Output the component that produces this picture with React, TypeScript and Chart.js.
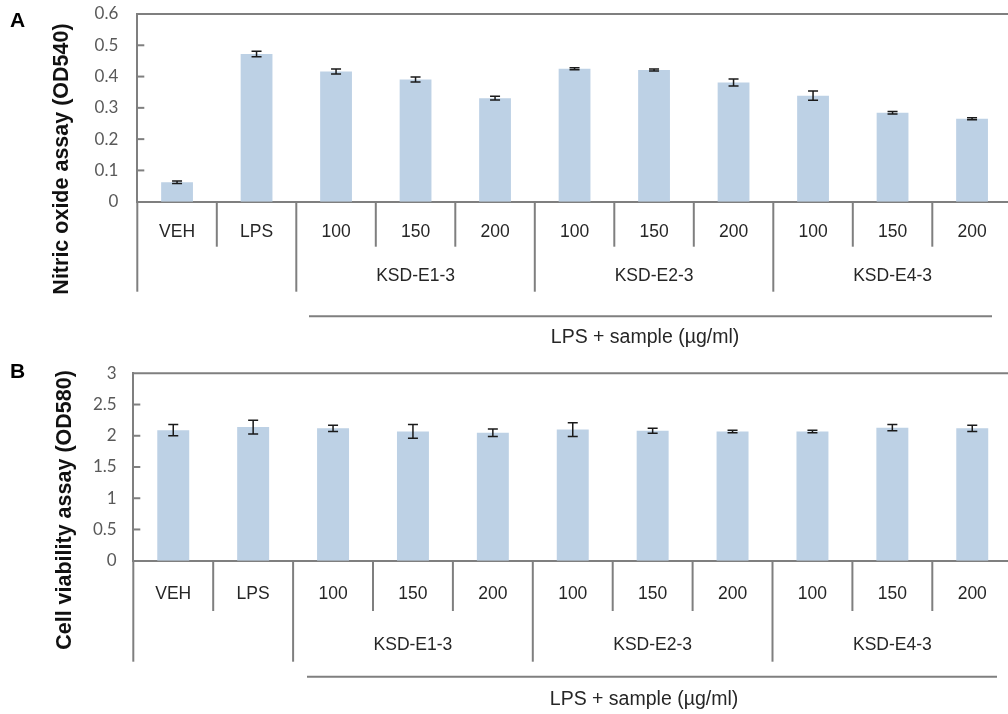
import React, { useEffect, useRef } from "react";
import { Chart, registerables } from "chart.js";

Chart.register(...registerables);

// ---- Data ----
const categories = ["VEH", "LPS", "100", "150", "200", "100", "150", "200", "100", "150", "200"];
const groupLabels = ["KSD-E1-3", "KSD-E2-3", "KSD-E4-3"];
const groupStarts = [2, 5, 8];
const groupSize = 3;
const bracketLabel = "LPS + sample (µg/ml)";

const noValues = [0.062, 0.472, 0.416, 0.391, 0.331, 0.425, 0.421, 0.381, 0.339, 0.284, 0.265];
const noErrors = [0.004, 0.009, 0.008, 0.008, 0.006, 0.003, 0.003, 0.011, 0.015, 0.004, 0.003];
const noTickLabels = ["0", "0.1", "0.2", "0.3", "0.4", "0.5", "0.6"];

const cvValues = [2.09, 2.14, 2.12, 2.07, 2.05, 2.1, 2.08, 2.07, 2.07, 2.13, 2.12];
const cvErrors = [0.09, 0.11, 0.05, 0.11, 0.06, 0.11, 0.04, 0.02, 0.02, 0.05, 0.05];
const cvTickLabels = ["0", "0.5", "1", "1.5", "2", "2.5", "3"];

// ---- Styles ----
const BAR = "#bdd1e5";
const AXIS = "#7f7f7f";
const TEXT = "#262626";
const TICKTEXT = "#595959";
const CANVAS_W = 1040;

type PanelCfg = {
  letter: string;
  title: string;
  values: number[];
  errors: number[];
  tickLabels: string[];
  yMax: number;
  yStep: number;
  canvasTop: number;
  canvasH: number;
  chartTop: number;
  axisY: number;
  left: number;
  catW: number;
  tickPad: number;
  row1: number;
  smallSep: number;
  row2: number;
  groupSep: number;
  lineOff: number;
  lineX1: number;
  lineX2: number;
  textOff: number;
  textX: number;
  titleX: number;
  titleY: number;
  letterY: number;
};

const panels: PanelCfg[] = [
  {
    letter: "A",
    title: "Nitric oxide assay (OD540)",
    values: noValues,
    errors: noErrors,
    tickLabels: noTickLabels,
    yMax: 0.6,
    yStep: 0.1,
    canvasTop: 0,
    canvasH: 357,
    chartTop: 14,
    axisY: 201.7,
    left: 137.3,
    catW: 79.5,
    tickPad: 19,
    row1: 30,
    smallSep: 45,
    row2: 74.5,
    groupSep: 90,
    lineOff: 114.5,
    lineX1: 309,
    lineX2: 992,
    textOff: 135.5,
    textX: 645,
    titleX: 67.5,
    titleY: 159,
    letterY: 26.5,
  },
  {
    letter: "B",
    title: "Cell viability assay (OD580)",
    values: cvValues,
    errors: cvErrors,
    tickLabels: cvTickLabels,
    yMax: 3,
    yStep: 0.5,
    canvasTop: 357,
    canvasH: 357,
    chartTop: 16.3,
    axisY: 203.7,
    left: 133.3,
    catW: 79.9,
    tickPad: 16.6,
    row1: 33,
    smallSep: 50.3,
    row2: 84.3,
    groupSep: 101,
    lineOff: 116,
    lineX1: 307,
    lineX2: 997,
    textOff: 138.5,
    textX: 644,
    titleX: 70.5,
    titleY: 153,
    letterY: 21.3,
  },
];

function makePlugin(cfg: PanelCfg) {
  return {
    id: "panelDecor" + cfg.letter,
    afterDatasetsDraw(chart: any) {
      const { ctx } = chart;
      const x = chart.scales.x;
      const y = chart.scales.y;
      ctx.save();
      ctx.strokeStyle = "#1a1a1a";
      ctx.lineWidth = 1.5;
      cfg.values.forEach((v, i) => {
        const px = x.getPixelForValue(i);
        const yt = y.getPixelForValue(v + cfg.errors[i]);
        const yb = y.getPixelForValue(v - cfg.errors[i]);
        ctx.beginPath();
        ctx.moveTo(px, yt);
        ctx.lineTo(px, yb);
        ctx.moveTo(px - 5, yt);
        ctx.lineTo(px + 5, yt);
        ctx.moveTo(px - 5, yb);
        ctx.lineTo(px + 5, yb);
        ctx.stroke();
      });
      ctx.restore();
    },
    afterDraw(chart: any) {
      const { ctx, chartArea } = chart;
      const x = chart.scales.x;
      const y = chart.scales.y;
      const bottom = chartArea.bottom;
      ctx.save();
      ctx.strokeStyle = AXIS;
      ctx.lineWidth = 2;
      // top frame line
      ctx.beginPath();
      ctx.moveTo(chartArea.left - 1, chartArea.top);
      ctx.lineTo(chart.width, chartArea.top);
      ctx.stroke();
      // inner y ticks
      y.ticks.forEach((t: any) => {
        if (t.value <= 0 || t.value >= cfg.yMax) return;
        const py = y.getPixelForValue(t.value);
        ctx.beginPath();
        ctx.moveTo(chartArea.left, py);
        ctx.lineTo(chartArea.left + 7, py);
        ctx.stroke();
      });
      // category separators
      const n = categories.length;
      const w = (x.right - x.left) / n;
      const bounds = new Set<number>([0, n, ...groupStarts]);
      for (let i = 0; i <= n; i++) {
        const bx = x.left + i * w;
        const depth = bounds.has(i) ? cfg.groupSep : cfg.smallSep;
        ctx.beginPath();
        ctx.moveTo(bx, bottom);
        ctx.lineTo(bx, bottom + depth);
        ctx.stroke();
      }
      // group labels
      ctx.fillStyle = TEXT;
      ctx.font = '17.5px "Liberation Sans", Arial, sans-serif';
      ctx.textAlign = "center";
      ctx.textBaseline = "middle";
      groupLabels.forEach((g, gi) => {
        const s = groupStarts[gi];
        const cx = (x.getPixelForValue(s) + x.getPixelForValue(s + groupSize - 1)) / 2;
        ctx.fillText(g, cx, bottom + cfg.row2);
      });
      // bracket line + label
      ctx.beginPath();
      ctx.moveTo(cfg.lineX1, bottom + cfg.lineOff);
      ctx.lineTo(cfg.lineX2, bottom + cfg.lineOff);
      ctx.stroke();
      ctx.font = '19.5px "Liberation Sans", Arial, sans-serif';
      ctx.fillText(bracketLabel, cfg.textX, bottom + cfg.textOff);
      // y title
      ctx.save();
      ctx.translate(cfg.titleX, cfg.titleY);
      ctx.rotate(-Math.PI / 2);
      ctx.font = 'bold 21.5px "Liberation Sans", Arial, sans-serif';
      ctx.textAlign = "center";
      ctx.textBaseline = "alphabetic";
      ctx.fillStyle = "#111";
      ctx.fillText(cfg.title, 0, 0);
      ctx.restore();
      // panel letter
      ctx.font = 'bold 21px "Liberation Sans", Arial, sans-serif';
      ctx.textAlign = "left";
      ctx.textBaseline = "alphabetic";
      ctx.fillStyle = "#000";
      ctx.fillText(cfg.letter, 10, cfg.letterY);
      ctx.restore();
    },
  };
}

function Panel({ cfg }: { cfg: PanelCfg }) {
  const ref = useRef<HTMLCanvasElement | null>(null);
  useEffect(() => {
    if (!ref.current) return;
    const right = cfg.left + categories.length * cfg.catW;
    const chart = new Chart(ref.current, {
      type: "bar",
      data: {
        labels: categories,
        datasets: [
          {
            data: cfg.values,
            backgroundColor: BAR,
            borderWidth: 0,
            barPercentage: 0.4,
            categoryPercentage: 1,
          },
        ],
      },
      options: {
        responsive: false,
        animation: false,
        devicePixelRatio: 1,
        layout: { padding: { left: 0, top: cfg.chartTop, right: CANVAS_W - right, bottom: 0 } },
        plugins: { legend: { display: false }, tooltip: { enabled: false } },
        scales: {
          x: {
            grid: { display: false, drawTicks: false },
            border: { display: true, color: AXIS, width: 2 },
            ticks: {
              autoSkip: false,
              maxRotation: 0,
              minRotation: 0,
              color: TEXT,
              font: { family: '"Liberation Sans", Arial, sans-serif', size: 17.5 },
              padding: cfg.row1 - 10.5,
            },
            afterFit: (s: any) => {
              s.height = cfg.canvasH - cfg.axisY;
              s.paddingLeft = 0;
              s.paddingRight = 0;
            },
          },
          y: {
            min: 0,
            max: cfg.yMax,
            grid: { display: false, drawTicks: false },
            border: { display: true, color: AXIS, width: 2 },
            ticks: {
              stepSize: cfg.yStep,
              color: TICKTEXT,
              font: { family: "Lato, sans-serif", size: 17 },
              padding: cfg.tickPad,
              callback: (_v: any, i: number) => cfg.tickLabels[i],
            },
            afterFit: (s: any) => {
              s.width = cfg.left;
              s.paddingTop = 0;
              s.paddingBottom = 0;
            },
          },
        },
      },
      plugins: [makePlugin(cfg)],
    } as any);
    return () => chart.destroy();
  }, [cfg]);
  return (
    <canvas
      ref={ref}
      width={CANVAS_W}
      height={cfg.canvasH}
      style={{ position: "absolute", left: 0, top: cfg.canvasTop, width: CANVAS_W, height: cfg.canvasH }}
    />
  );
}

export default function App() {
  return (
    <div
      style={{
        position: "fixed",
        left: 0,
        top: 0,
        width: 1008,
        height: 714,
        overflow: "hidden",
        background: "#fff",
      }}
    >
      {panels.map((p) => (
        <Panel key={p.letter} cfg={p} />
      ))}
    </div>
  );
}
